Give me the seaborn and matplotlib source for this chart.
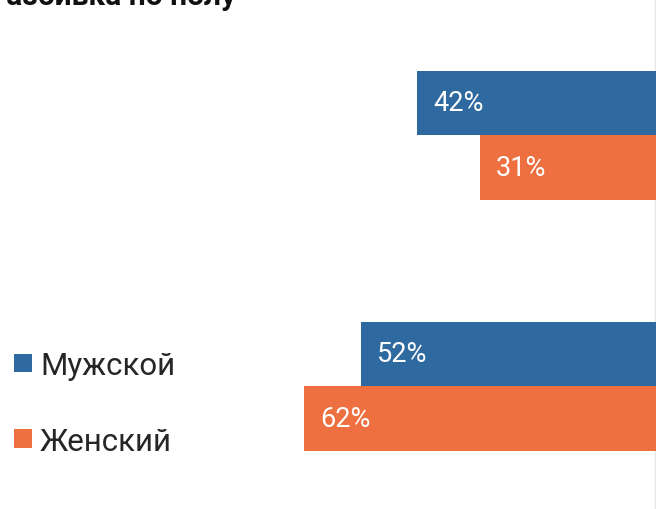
import matplotlib
matplotlib.use("Agg")
import matplotlib.pyplot as plt
import seaborn as sns
import pandas as pd

# --- data ---
groups = ["Группа 1", "Группа 2"]
sexes = ["Мужской", "Женский"]
male_values = [42, 52]
female_values = [31, 62]
title_text = "Разбивка по полу"

colors = ["#2E6A9F", "#EE7040"]

df = pd.DataFrame({
    "group": groups + groups,
    "sex": [sexes[0]] * len(groups) + [sexes[1]] * len(groups),
    "value": male_values + female_values,
})

sns.set_theme(style="white")
plt.rcParams["font.family"] = ["Roboto", "DejaVu Sans"]

W, H, DPI = 656, 510, 100
fig = plt.figure(figsize=(W / DPI, H / DPI), dpi=DPI)
ax = fig.add_axes([0, 0, 1, 1])

sns.barplot(data=df, y="group", x="value", hue="sex", hue_order=sexes,
            orient="h", palette=colors, saturation=1, width=0.514,
            linewidth=0, ax=ax)

ax.axvline(0.15, color="#e6e6e6", lw=1, zorder=0)

ax.set_xlim(656 / 5.68, 0)
ax.set_ylim(-0.542 + 510 / 251, -0.542)
ax.set_xticks([])
ax.set_yticks([])
ax.set_xlabel("")
ax.set_ylabel("")
for s in ax.spines.values():
    s.set_visible(False)

# value labels
for cont in ax.containers:
    for bar in cont:
        w = bar.get_width()
        yc = bar.get_y() + bar.get_height() / 2
        ax.annotate(f"{w:.0f}%", xy=(w, yc), xytext=(16, 0),
                    textcoords="offset pixels", ha="left", va="center",
                    color="white", fontsize=19.5, fontweight="normal")

# legend
sns.move_legend(ax, loc="upper left",
                bbox_to_anchor=(14 / W, 1 - 352 / H),
                bbox_transform=fig.transFigure,
                frameon=False, title=None, fontsize=22.5,
                handlelength=0.58, handleheight=0.55, handletextpad=0.25,
                labelspacing=1.49, borderpad=0, borderaxespad=0)

# title (partially cut off at top-left as in the reference)
fig.text(236 / W, 1 - 5 / H, title_text, ha="right", va="baseline",
         fontsize=21.5, fontweight="bold", color="#111111")

fig.savefig("out.png", dpi=DPI)
